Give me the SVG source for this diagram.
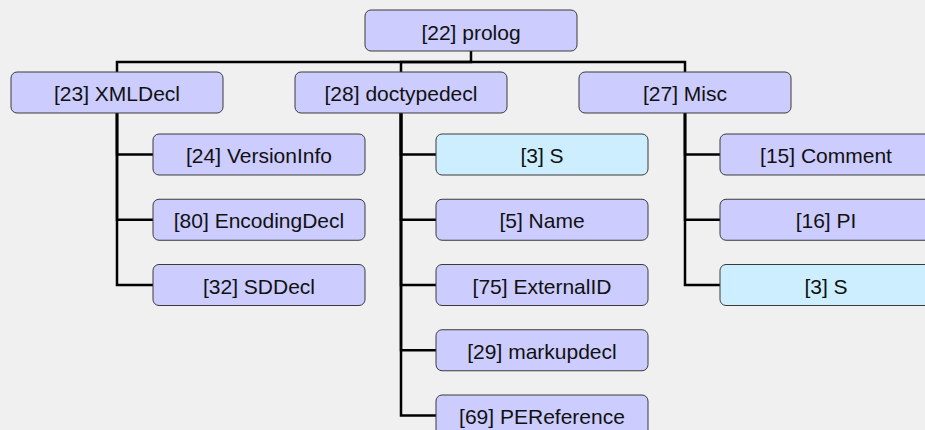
<svg xmlns="http://www.w3.org/2000/svg" width="925" height="430" viewBox="0 0 925 430">
<style>
.n rect{fill:#ccccff;stroke:#3a3a3a;stroke-width:1}
.n.c rect{fill:#cceeff}
.n text{font-family:"Liberation Sans",Arial,sans-serif;font-size:21px;fill:#111;text-anchor:middle}
.e path{fill:none;stroke:#000;stroke-width:2.5}
</style>
<rect x="0" y="0" width="925" height="430" fill="#f0f0f0"/>
<g id="connectors" class="e">
<path d="M471,51 V62 H117 V72"/>
<path d="M471,62 H401 V72"/>
<path d="M471,62 H685 V72"/>
<path d="M117,113 V154.5 H153"/>
<path d="M117,113 V219.75 H153"/>
<path d="M117,113 V285 H153"/>
<path d="M401,113 V154.5 H436"/>
<path d="M401,113 V219.75 H436"/>
<path d="M401,113 V285 H436"/>
<path d="M401,113 V350.25 H436"/>
<path d="M401,113 V415.5 H436"/>
<path d="M685,113 V154.5 H720"/>
<path d="M685,113 V219.75 H720"/>
<path d="M685,113 V285 H720"/>
</g>
<g id="prolog" class="n"><rect x="365" y="10" width="212" height="41" rx="6"/><text x="471" y="40">[22] prolog</text></g>
<g id="XMLDecl" class="n"><rect x="11" y="72" width="212" height="41" rx="6"/><text x="117" y="101">[23] XMLDecl</text></g>
<g id="doctypedecl" class="n"><rect x="295" y="72" width="212" height="41" rx="6"/><text x="401" y="101">[28] doctypedecl</text></g>
<g id="Misc" class="n"><rect x="579" y="72" width="212" height="41" rx="6"/><text x="685" y="101">[27] Misc</text></g>
<g id="VersionInfo" class="n"><rect x="153" y="134" width="212" height="41" rx="6"/><text x="259" y="163">[24] VersionInfo</text></g>
<g id="EncodingDecl" class="n"><rect x="153" y="199.25" width="212" height="41" rx="6"/><text x="259" y="228.25">[80] EncodingDecl</text></g>
<g id="SDDecl" class="n"><rect x="153" y="264.5" width="212" height="41" rx="6"/><text x="259" y="293.5">[32] SDDecl</text></g>
<g id="S1" class="n c"><rect x="436" y="134" width="212" height="41" rx="6"/><text x="542" y="163">[3] S</text></g>
<g id="Name" class="n"><rect x="436" y="199.25" width="212" height="41" rx="6"/><text x="542" y="228.25">[5] Name</text></g>
<g id="ExternalID" class="n"><rect x="436" y="264.5" width="212" height="41" rx="6"/><text x="542" y="293.5">[75] ExternalID</text></g>
<g id="markupdecl" class="n"><rect x="436" y="329.75" width="212" height="41" rx="6"/><text x="542" y="358.75">[29] markupdecl</text></g>
<g id="PEReference" class="n"><rect x="436" y="395" width="212" height="41" rx="6"/><text x="542" y="424">[69] PEReference</text></g>
<g id="Comment" class="n"><rect x="720" y="134" width="212" height="41" rx="6"/><text x="826" y="163">[15] Comment</text></g>
<g id="PI" class="n"><rect x="720" y="199.25" width="212" height="41" rx="6"/><text x="826" y="228.25">[16] PI</text></g>
<g id="S2" class="n c"><rect x="720" y="264.5" width="212" height="41" rx="6"/><text x="826" y="293.5">[3] S</text></g>
</svg>
